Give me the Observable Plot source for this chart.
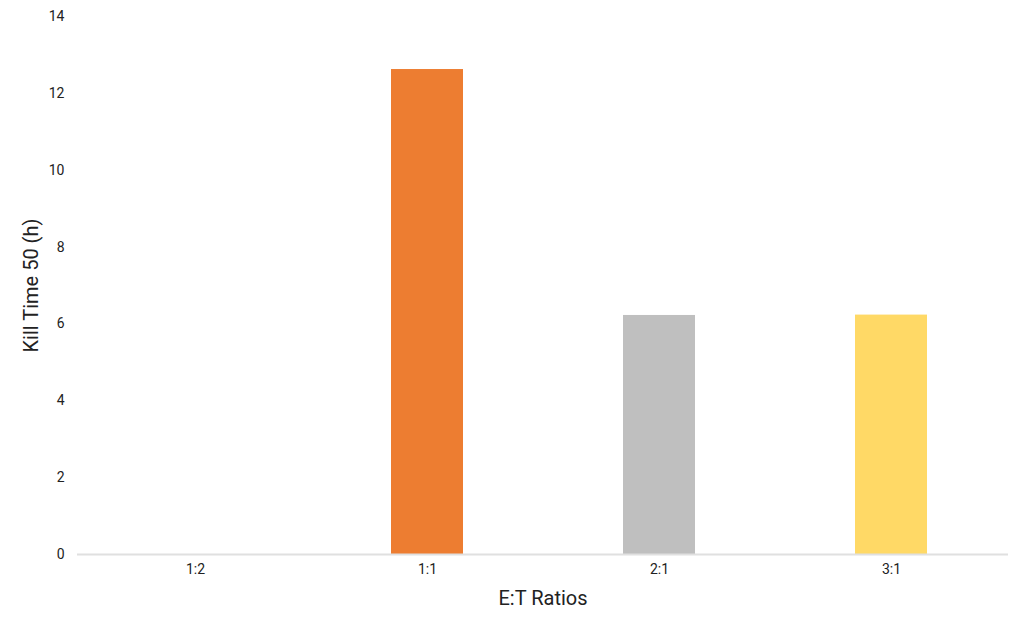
<!DOCTYPE html>
<html>
<head>
<meta charset="utf-8">
<script src="https://cdn.jsdelivr.net/npm/d3@7"></script>
<script src="https://cdn.jsdelivr.net/npm/@observablehq/plot@0.6"></script>
<style>
  body { margin: 0; background: #fff; }
  svg { font-family: Roboto, "Noto Sans", sans-serif; }
  g[aria-label$="axis label"] text { font-size: 20px; }
</style>
</head>
<body>
<div id="chart"></div>
<script>
const ratios = ["1:2", "1:1", "2:1", "3:1"];
const killTime = [0, 12.62, 6.22, 6.23];
const barColors = ["#4472C4", "#ED7D31", "#BFBFBF", "#FFD966"];
const yTicks = [0, 2, 4, 6, 8, 10, 12, 14];

const data = ratios.map((r, i) => ({ratio: r, value: killTime[i]}));

const chart = Plot.plot({
  width: 1024,
  height: 628,
  marginLeft: 77,
  marginRight: 16,
  marginTop: 16,
  marginBottom: 74,
  style: {fontFamily: "Roboto, 'Noto Sans', sans-serif", fontSize: "14px", color: "#222", background: "#fff"},
  x: {domain: ratios, padding: 0, label: null},
  y: {domain: [0, 14], label: null},
  color: {domain: ratios, range: barColors},
  marks: [
    Plot.barY(data, {x: "ratio", y: "value", fill: "ratio", insetLeft: 80, insetRight: 80}),
    Plot.ruleY([0], {stroke: "#e0e0e0", strokeWidth: 2}),
    Plot.axisY({ticks: yTicks, tickSize: 0, tickPadding: 13, fontSize: 14,
      label: "Kill Time 50 (h)", labelAnchor: "center", labelArrow: "none", labelOffset: 54}),
    Plot.axisX({tickSize: 0, tickPadding: 10, fontSize: 14,
      label: "E:T Ratios", labelAnchor: "center", labelArrow: "none", labelOffset: 50})
  ]
});
document.getElementById("chart").appendChild(chart);
</script>
</body>
</html>
